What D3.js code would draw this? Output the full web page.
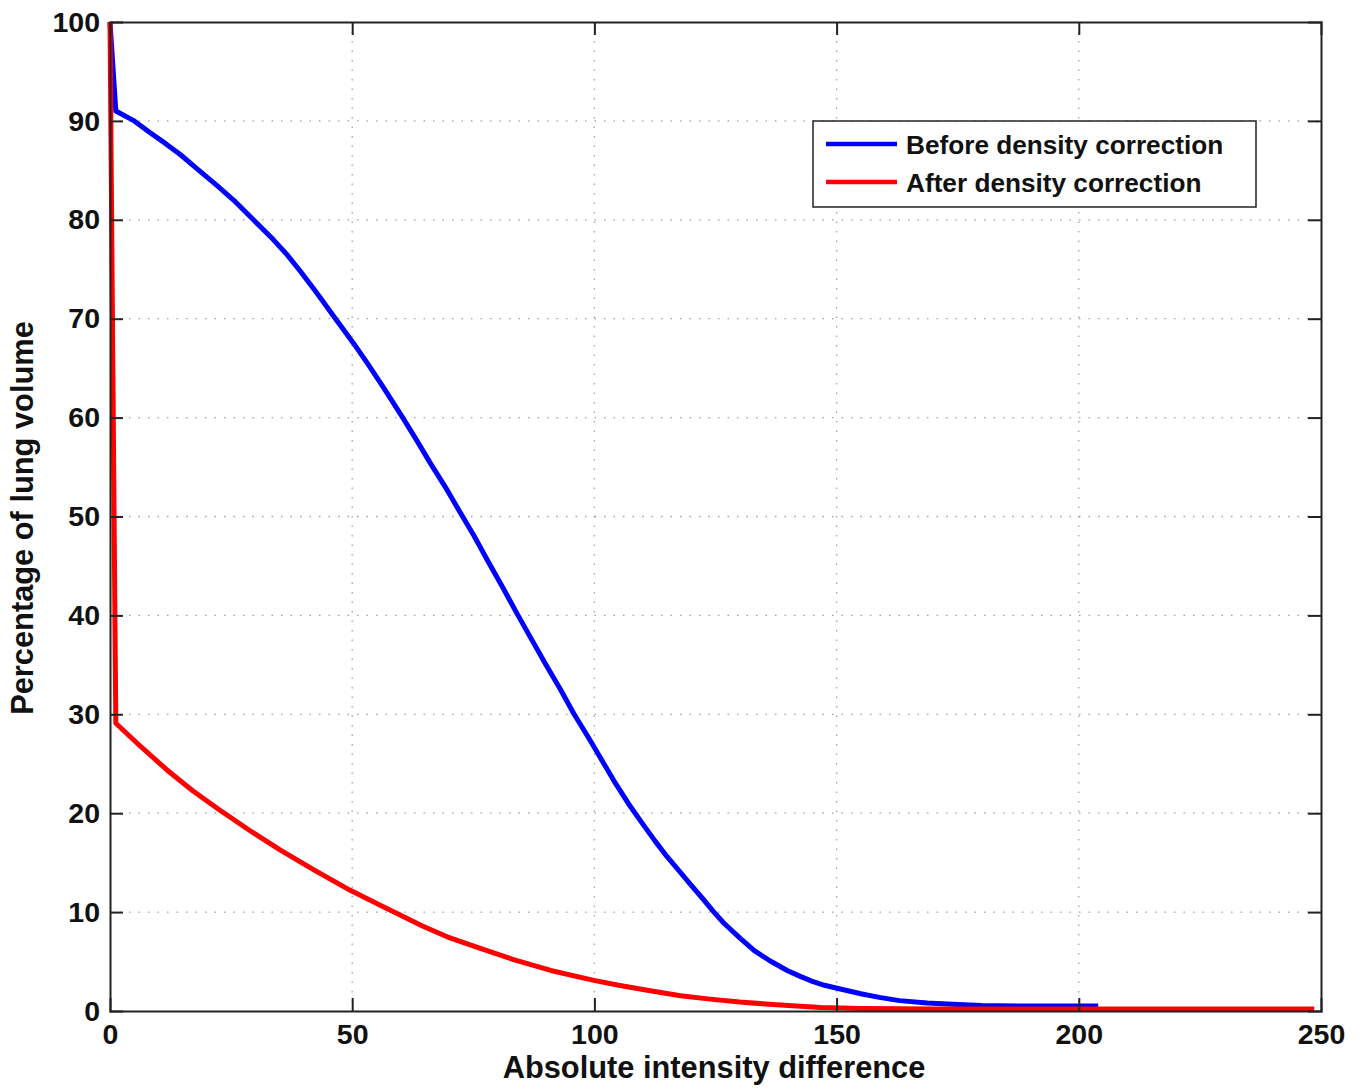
<!DOCTYPE html>
<html>
<head>
<meta charset="utf-8">
<script src="https://cdn.jsdelivr.net/npm/d3@7"></script>
<style>
  html, body { margin: 0; padding: 0; background: #fff; }
  svg { display: block; font-family: "Liberation Sans", Arial, sans-serif; font-weight: bold; }
</style>
</head>
<body>
<svg id="chart" width="1370" height="1090"></svg>
<script>
// ---- data ----
const xTicks = [0, 50, 100, 150, 200, 250];
const yTicks = [0, 10, 20, 30, 40, 50, 60, 70, 80, 90, 100];
const seriesNames = ["Before density correction", "After density correction"];
const seriesColors = ["#0000ff", "#ff0000"];

const beforeX = [0, 1.2, 5, 8.3, 11.5, 14.5, 18.6, 22, 25.5, 29.6, 33.7, 36.5, 39.3, 42.7, 46.1, 50.3, 53.4, 56.5, 60.3, 63.2, 66, 69.2, 72.3, 75.2, 78, 81, 84.0, 87, 90, 93, 95.7, 99.2, 101.6, 104.0, 107.4, 110, 112.5, 115, 117.8, 120, 122.3, 124.5, 126.7, 130, 133, 136.5, 139.8, 142.5, 145, 147.5, 150.1, 155, 159.1, 163, 168.7, 175, 180, 190, 204];
const beforeY = [100, 91.0, 90.0, 88.8, 87.7, 86.6, 84.9, 83.5, 82.0, 80.0, 78.0, 76.5, 74.8, 72.6, 70.3, 67.5, 65.3, 63.0, 60.1, 57.8, 55.5, 53.0, 50.4, 48.0, 45.5, 42.9, 40.2, 37.6, 35.0, 32.5, 30.1, 27.3, 25.3, 23.3, 20.7, 18.9, 17.2, 15.6, 14.0, 12.7, 11.4, 10.1, 8.9, 7.4, 6.1, 5.0, 4.1, 3.5, 3.0, 2.6, 2.3, 1.75, 1.35, 1.05, 0.8, 0.65, 0.55, 0.5, 0.5];

const afterX = [0, 1.2, 6, 11.7, 17, 22.7, 29, 35.1, 42, 49.6, 55.8, 59.9, 64.5, 69.6, 76, 83.3, 91, 99.9, 105, 110.9, 117.8, 123.9, 130, 138.4, 146.7, 155, 170, 200, 248.6];
const afterY = [100, 29.1, 26.9, 24.4, 22.3, 20.3, 18.2, 16.3, 14.3, 12.2, 10.7, 9.7, 8.6, 7.5, 6.4, 5.2, 4.1, 3.1, 2.6, 2.1, 1.55, 1.2, 0.9, 0.6, 0.35, 0.25, 0.2, 0.2, 0.2];

(function () {
// ---- layout ----
const svg = d3.select("#chart");
const pL = 110, pR = 1321, pT = 22, pB = 1011;
const x = d3.scaleLinear().domain([0, 250]).range([pL, pR]);
const y = d3.scaleLinear().domain([0, 100]).range([pB, pT]);

// grid
const grid = svg.append("g").attr("stroke", "#a0a0a0").attr("stroke-width", 1.3).attr("stroke-dasharray", "1.5,8");
grid.selectAll("line.gx").data(xTicks.slice(1, -1)).join("line").attr("class", "gx")
  .attr("x1", d => x(d)).attr("x2", d => x(d)).attr("y1", pT).attr("y2", pB);
grid.selectAll("line.gy").data(yTicks.slice(1, -1)).join("line").attr("class", "gy")
  .attr("y1", d => y(d)).attr("y2", d => y(d)).attr("x1", pL).attr("x2", pR);

// lines
const lineGen = d3.line().x(d => x(d[0])).y(d => y(d[1]));
const seriesData = [
  d3.zip(beforeX, beforeY),
  d3.zip(afterX, afterY)
];
svg.append("g").selectAll("path").data(seriesData).join("path")
  .attr("d", lineGen)
  .attr("fill", "none")
  .attr("stroke", (d, i) => seriesColors[i])
  .attr("stroke-width", 5)
  .attr("stroke-linejoin", "round");

// axes (MATLAB-style box with inward ticks)
const tickLen = 13;
const axB = svg.append("g").attr("transform", `translate(0,${pB})`)
  .call(d3.axisBottom(x).tickValues(xTicks).tickSize(-tickLen).tickPadding(13));
const axT = svg.append("g").attr("transform", `translate(0,${pT})`)
  .call(d3.axisTop(x).tickValues(xTicks).tickSize(-tickLen).tickFormat(""));
const axL = svg.append("g").attr("transform", `translate(${pL},0)`)
  .call(d3.axisLeft(y).tickValues(yTicks).tickSize(-tickLen).tickPadding(10));
const axR = svg.append("g").attr("transform", `translate(${pR},0)`)
  .call(d3.axisRight(y).tickValues(yTicks).tickSize(-tickLen).tickFormat(""));

[axB, axT, axL, axR].forEach(a => {
  a.select(".domain").attr("stroke", "#222").attr("stroke-width", 2);
  a.selectAll(".tick line").attr("stroke", "#222").attr("stroke-width", 2);
  a.selectAll(".tick text").attr("fill", "#111").attr("font-size", 28.5)
    .attr("font-family", "'Liberation Sans', Arial, sans-serif").attr("font-weight", "bold");
});
axB.selectAll(".tick line").filter(d => d === 0 || d === 250).remove();
axT.selectAll(".tick line").filter(d => d === 0 || d === 250).remove();
axL.selectAll(".tick line").filter(d => d === 0 || d === 100).remove();
axR.selectAll(".tick line").filter(d => d === 0 || d === 100).remove();

// axis titles
svg.append("text").attr("x", 714).attr("y", 1078)
  .attr("text-anchor", "middle").attr("font-size", 30.8).attr("fill", "#111")
  .text("Absolute intensity difference");
svg.append("text").attr("transform", `translate(33,518) rotate(-90)`)
  .attr("text-anchor", "middle").attr("font-size", 30.8).attr("fill", "#111")
  .text("Percentage of lung volume");

// legend
const lg = svg.append("g");
lg.append("rect").attr("x", 813).attr("y", 121).attr("width", 443).attr("height", 86)
  .attr("fill", "#fff").attr("stroke", "#222").attr("stroke-width", 1.5);
seriesNames.forEach((name, i) => {
  const ly = 144 + i * 38;
  lg.append("line").attr("x1", 826).attr("x2", 897).attr("y1", ly).attr("y2", ly)
    .attr("stroke", seriesColors[i]).attr("stroke-width", 4.5);
  lg.append("text").attr("x", 906).attr("y", ly + 10).attr("font-size", 26.2).attr("fill", "#111")
    .text(name);
});
})();
</script>
</body>
</html>
